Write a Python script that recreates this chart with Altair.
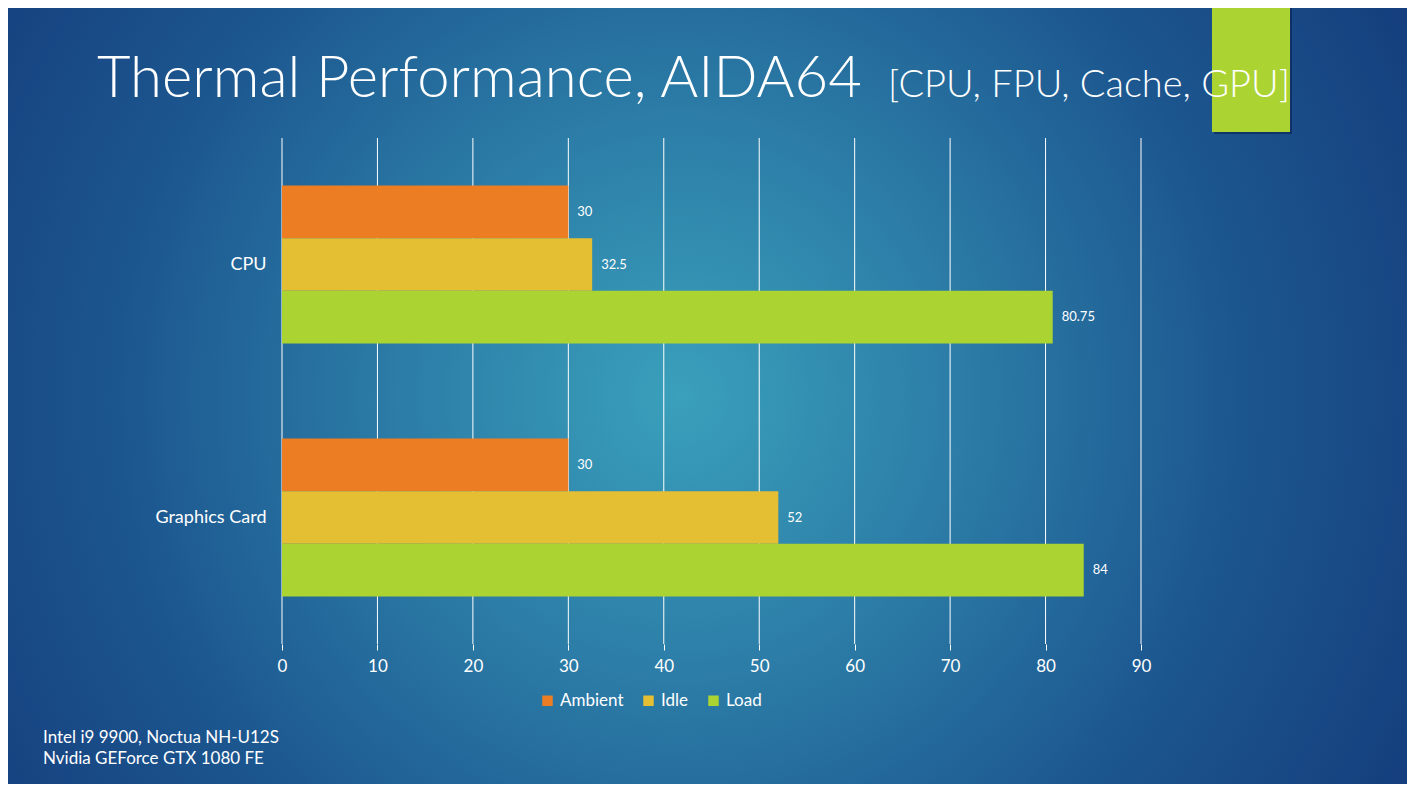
import altair as alt
import pandas as pd

categories = ["CPU", "Graphics Card"]
series = ["Ambient", "Idle", "Load"]
ambient = [30, 30]
idle = [32.5, 52]
load = [80.75, 84]
colors = ["#ED7D22", "#E4BF33", "#ABD433"]
x_ticks = [0, 10, 20, 30, 40, 50, 60, 70, 80, 90]

rows = []
for i, c in enumerate(categories):
    for s, vals in zip(series, [ambient, idle, load]):
        rows.append({"Component": c, "Series": s, "Value": vals[i]})
df = pd.DataFrame(rows)
grid_df = pd.DataFrame({"tick": x_ticks})

W, H = 859, 506
PL, PT, PR, PB = 274, 130, 266, 140
FONT = "Lato"

one = alt.Data(values=[{"a": 1}])

bg = alt.Chart(one).mark_rect(
    color=alt.Gradient(
        gradient="radial",
        x1=0.48, y1=0.5, r1=0.0,
        x2=0.48, y2=0.5, r2=0.72,
        stops=[
            alt.GradientStop(offset=0.0, color="#3aa0bb"),
            alt.GradientStop(offset=0.25, color="#2d80a9"),
            alt.GradientStop(offset=0.55, color="#1c568f"),
            alt.GradientStop(offset=0.8, color="#153f7e"),
            alt.GradientStop(offset=1.0, color="#123679"),
        ],
    )
).encode(
    x=alt.value(-PL - 10), x2=alt.value(W + PR + 10),
    y=alt.value(-PT - 10), y2=alt.value(H + PB + 10),
)

deco_shadow = alt.Chart(one).mark_rect(color="#0a2250", opacity=0.6).encode(
    x=alt.value(932), x2=alt.value(1010), y=alt.value(-PT - 10), y2=alt.value(-4)
)
deco = alt.Chart(one).mark_rect(color="#ABD433").encode(
    x=alt.value(930), x2=alt.value(1008), y=alt.value(-PT - 10), y2=alt.value(-6)
)

title = alt.Chart(one).mark_text(
    text="Thermal Performance, AIDA64", font=FONT, fontSize=58, color="white",
    align="left", baseline="alphabetic", fontWeight=300
).encode(x=alt.value(-185), y=alt.value(-41))

subtitle = alt.Chart(one).mark_text(
    text="[CPU, FPU, Cache, GPU]", font=FONT, fontSize=38, color="white",
    align="right", baseline="alphabetic", fontWeight=300
).encode(x=alt.value(1008), y=alt.value(-41))

foot1 = alt.Chart(one).mark_text(
    text="Intel i9 9900, Noctua NH-U12S", font=FONT, fontSize=17, color="white",
    align="left", baseline="alphabetic"
).encode(x=alt.value(-239), y=alt.value(605))
foot2 = alt.Chart(one).mark_text(
    text="Nvidia GEForce GTX 1080 FE", font=FONT, fontSize=17, color="white",
    align="left", baseline="alphabetic"
).encode(x=alt.value(-239), y=alt.value(626))

x_scale = alt.Scale(domain=[0, 90], nice=False)

grid = alt.Chart(grid_df).mark_rule(color="white", strokeWidth=1).encode(
    x=alt.X("tick:Q", scale=x_scale), y=alt.value(0), y2=alt.value(H)
)

base = alt.Chart(df)
y_enc = alt.Y("Component:N", sort=categories, title=None,
              scale=alt.Scale(paddingInner=0.375, paddingOuter=0.1875),
              axis=alt.Axis(ticks=False, domain=False, labelPadding=16, zindex=2,
                            labelFontSize=18, labelColor="white", labelFont=FONT))
yoff = alt.YOffset("Series:N", sort=series, scale=alt.Scale(paddingInner=0, paddingOuter=0))
x_enc = alt.X("Value:Q", title=None, scale=x_scale,
              axis=alt.Axis(values=x_ticks, grid=False, domain=False, zindex=2,
                            tickColor="white", tickSize=6, labelFlush=False,
                            labelPadding=8, labelFontSize=17, labelColor="white",
                            labelFont=FONT))

bars = base.mark_bar().encode(
    x=x_enc, y=y_enc, yOffset=yoff,
    color=alt.Color("Series:N", sort=series,
                    scale=alt.Scale(domain=series, range=colors),
                    legend=alt.Legend(orient="none", legendX=257, legendY=554,
                                      direction="horizontal", title=None,
                                      symbolType="square", symbolSize=110,
                                      symbolStrokeWidth=0, symbolOpacity=1,
                                      labelFontSize=17, labelColor="white",
                                      labelFont=FONT, columnPadding=16,
                                      labelOffset=4, zindex=2)),
)

labels = base.mark_text(align="left", baseline="middle", dx=9, fontSize=13,
                        color="white", font=FONT).encode(
    x=alt.X("Value:Q", scale=x_scale), y=alt.Y("Component:N", sort=categories), yOffset=yoff,
    text=alt.Text("Value:Q"),
)

chart = alt.layer(bg, deco_shadow, deco, title, subtitle, foot1, foot2, grid, bars, labels).properties(
    width=W, height=H,
    autosize=alt.AutoSizeParams(type="none"),
    padding={"left": PL, "top": PT, "right": PR, "bottom": PB},
    background="#123679",
).configure_view(stroke=None)

chart.save("out.html", embed_options={"renderer": "svg", "actions": False})
